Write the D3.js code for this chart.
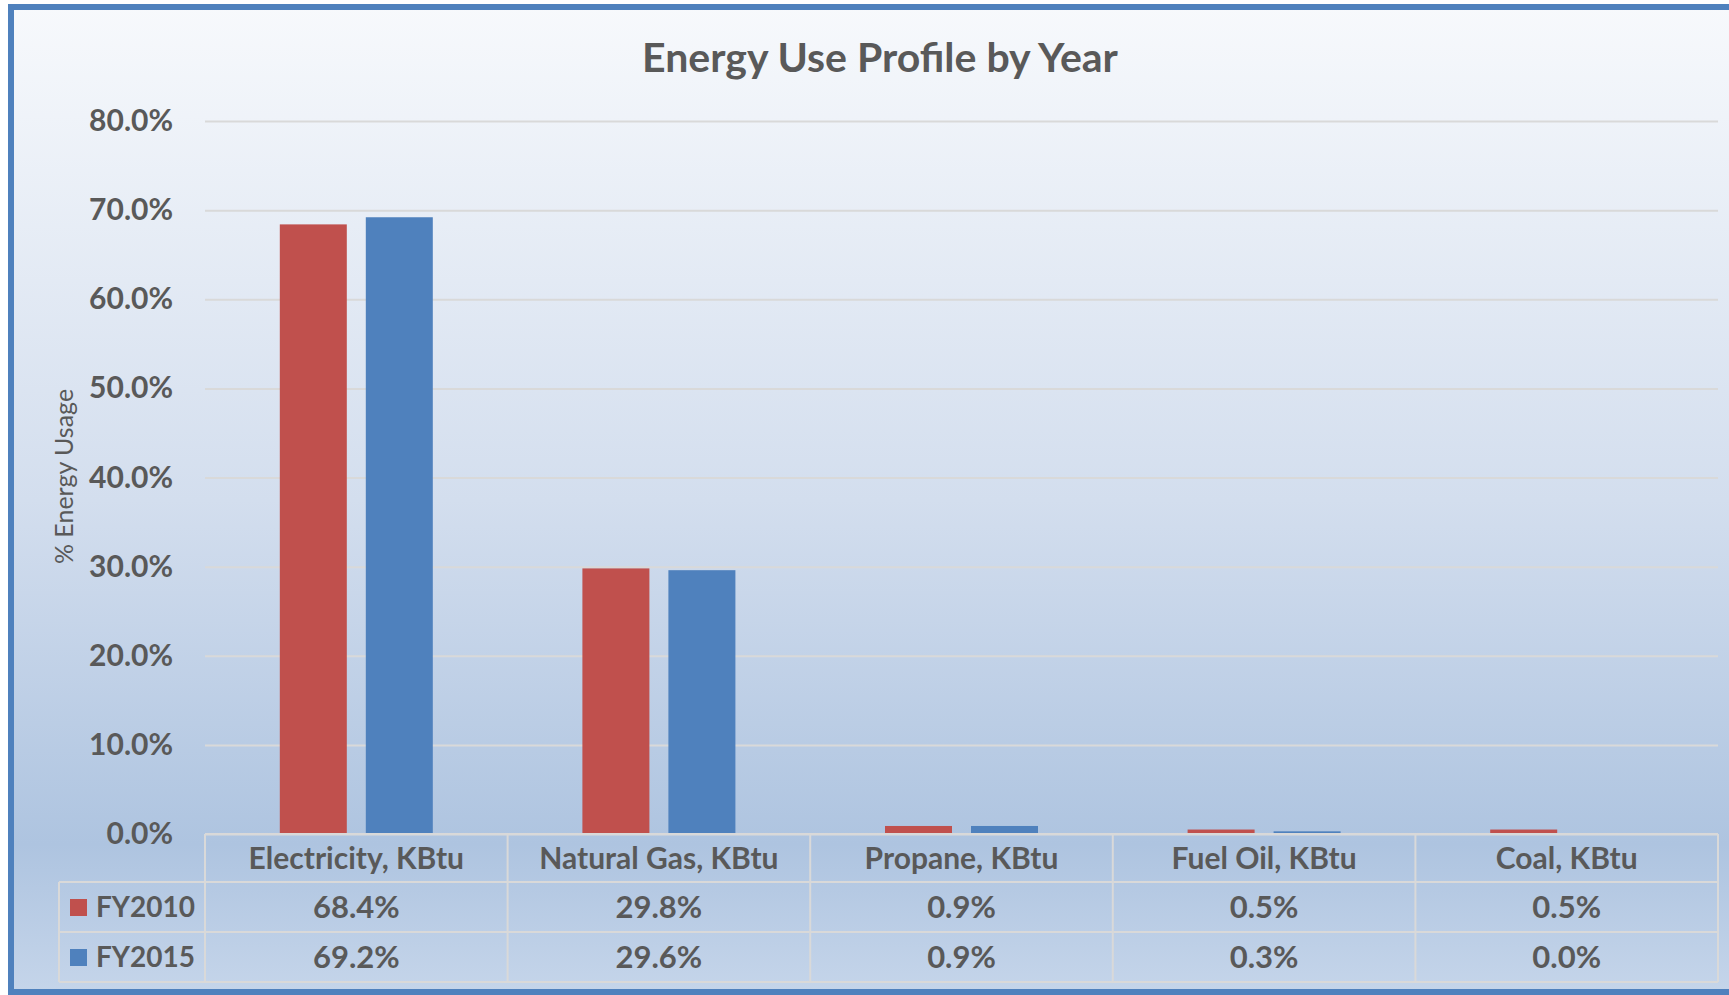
<!DOCTYPE html>
<html>
<head>
<meta charset="utf-8">
<script src="https://cdn.jsdelivr.net/npm/d3@7"></script>
<style>
  body { margin: 0; background: #fff; }
  svg { display: block; }
</style>
</head>
<body>
<script>
const categories = ["Electricity, KBtu", "Natural Gas, KBtu", "Propane, KBtu", "Fuel Oil, KBtu", "Coal, KBtu"];
const seriesNames = ["FY2010", "FY2015"];
const fy2010 = [68.4, 29.8, 0.9, 0.5, 0.5];
const fy2015 = [69.2, 29.6, 0.9, 0.3, 0.0];
const yTicks = [0, 10, 20, 30, 40, 50, 60, 70, 80];
const colors = ["#C0504D", "#4F81BD"];

const seriesValues = [fy2010, fy2015];

const W = 1729, H = 995;
const font = "Lato, 'Open Sans', sans-serif";
const textColor = "#595959";

let margin = { top: 121, left: 205, right: 11, bottom: 161 };
let plotW = W - margin.left - margin.right;
let plotH = H - margin.top - margin.bottom;

let svg = d3.select("body").append("svg")
  .attr("width", W)
  .attr("height", H);

// background gradient
let defs = svg.append("defs");
let grad = defs.append("linearGradient")
  .attr("id", "bg")
  .attr("x1", 0).attr("y1", 0).attr("x2", 0).attr("y2", 1);
grad.append("stop").attr("offset", "0%").attr("stop-color", "#F7F9FC");
grad.append("stop").attr("offset", "50%").attr("stop-color", "#D3DEEE");
grad.append("stop").attr("offset", "85%").attr("stop-color", "#AEC4E0");
grad.append("stop").attr("offset", "100%").attr("stop-color", "#C5D5EA");

svg.append("rect")
  .attr("x", 11).attr("y", 7)
  .attr("width", W + 20).attr("height", 985)
  .attr("fill", "url(#bg)")
  .attr("stroke", "#4F81BD")
  .attr("stroke-width", 6);

let g = svg.append("g")
  .attr("transform", "translate(" + margin.left + "," + margin.top + ")");

let x0 = d3.scaleBand().domain(categories).range([0, plotW]).padding(0);
let y = d3.scaleLinear().domain([0, 80]).range([plotH, 0]);
let groupW = 153;
let x1 = d3.scaleBand().domain(seriesNames)
  .range([-groupW / 2, groupW / 2])
  .paddingInner(19 / 86).paddingOuter(0);

// y axis with gridlines
let yAxis = g.append("g")
  .call(d3.axisLeft(y).tickValues(yTicks)
    .tickSize(-plotW).tickPadding(32)
    .tickFormat(function (d) { return d.toFixed(1) + "%"; }));
yAxis.select(".domain").remove();
yAxis.selectAll(".tick line")
  .attr("stroke", "#D9D9D9")
  .attr("stroke-width", 2);
yAxis.selectAll(".tick text")
  .attr("fill", textColor)
  .style("font-family", font)
  .style("font-weight", "bold")
  .style("font-size", "30px");

// bars
let groups = g.selectAll(".cat")
  .data(categories)
  .enter().append("g")
  .attr("class", "cat")
  .attr("transform", function (d) { return "translate(" + (x0(d) + x0.bandwidth() / 2) + ",0)"; });

groups.selectAll("rect")
  .data(function (d, i) {
    return seriesNames.map(function (s, j) { return { s: s, v: seriesValues[j][i], c: colors[j] }; });
  })
  .enter().append("rect")
  .attr("x", function (d) { return x1(d.s); })
  .attr("width", x1.bandwidth())
  .attr("y", function (d) { return y(d.v); })
  .attr("height", function (d) { return plotH - y(d.v); })
  .attr("fill", function (d) { return d.c; });

// data table
let rowH = [48, 50, 50];
let tTop = plotH;
let legendLeft = 59 - margin.left;
let lineColor = "#D9D9D9";
let table = g.append("g");

let rowY = [tTop, tTop + rowH[0], tTop + rowH[0] + rowH[1], tTop + rowH[0] + rowH[1] + rowH[2]];

rowY.forEach(function (ry, i) {
  table.append("line")
    .attr("x1", i === 0 ? 0 : legendLeft).attr("x2", plotW)
    .attr("y1", ry).attr("y2", ry)
    .attr("stroke", lineColor).attr("stroke-width", 2);
});
categories.concat([null]).forEach(function (c, i) {
  let lx = c === null ? plotW : x0(c);
  table.append("line")
    .attr("x1", lx).attr("x2", lx)
    .attr("y1", rowY[0]).attr("y2", rowY[3])
    .attr("stroke", lineColor).attr("stroke-width", 2);
});
table.append("line")
  .attr("x1", legendLeft).attr("x2", legendLeft)
  .attr("y1", rowY[1]).attr("y2", rowY[3])
  .attr("stroke", lineColor).attr("stroke-width", 2);

table.selectAll(".hdr")
  .data(categories)
  .enter().append("text")
  .attr("x", function (d) { return x0(d) + x0.bandwidth() / 2; })
  .attr("y", (rowY[0] + rowY[1]) / 2)
  .attr("dy", "0.35em")
  .attr("text-anchor", "middle")
  .attr("fill", textColor)
  .style("font-family", font)
  .style("font-weight", "bold")
  .style("font-size", "30px")
  .text(function (d) { return d; });

seriesNames.forEach(function (s, j) {
  let cy = (rowY[j + 1] + rowY[j + 2]) / 2;
  table.selectAll(".val" + j)
    .data(seriesValues[j])
    .enter().append("text")
    .attr("x", function (d, i) { return x0(categories[i]) + x0.bandwidth() / 2; })
    .attr("y", cy)
    .attr("dy", "0.35em")
    .attr("text-anchor", "middle")
    .attr("fill", textColor)
    .style("font-family", font)
    .style("font-weight", "bold")
    .style("font-size", "31px")
    .text(function (d) { return d.toFixed(1) + "%"; });

  table.append("rect")
    .attr("x", 70 - margin.left).attr("y", cy - 8)
    .attr("width", 17).attr("height", 17)
    .attr("fill", colors[j]);
  table.append("text")
    .attr("x", 96 - margin.left).attr("y", cy)
    .attr("dy", "0.35em")
    .attr("fill", textColor)
    .style("font-family", font)
    .style("font-weight", "bold")
    .style("font-size", "28px")
    .text(s);
});

// title
svg.append("text")
  .attr("x", 880).attr("y", 72)
  .attr("text-anchor", "middle")
  .attr("fill", textColor)
  .style("font-family", font)
  .style("font-weight", "bold")
  .style("font-size", "41px")
  .text("Energy Use Profile by Year");

// y axis title
svg.append("text")
  .attr("transform", "translate(64," + (margin.top + plotH / 2 - 1) + ") rotate(-90)")
  .attr("text-anchor", "middle")
  .attr("dy", "0.35em")
  .attr("fill", textColor)
  .style("font-family", font)
  .style("font-size", "25px")
  .text("% Energy Usage");
</script>
</body>
</html>
